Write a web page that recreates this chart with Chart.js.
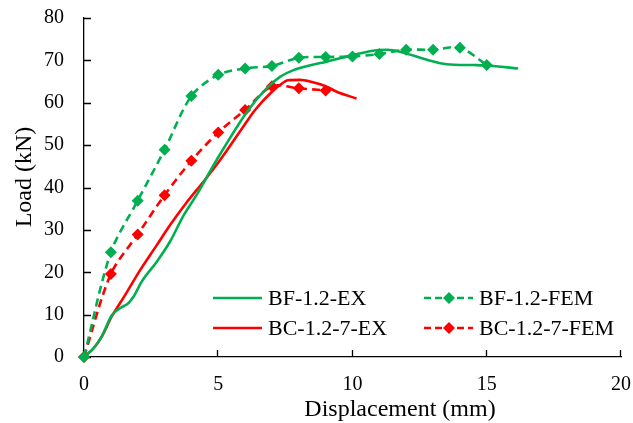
<!DOCTYPE html>
<html>
<head>
<meta charset="utf-8">
<script src="https://cdn.jsdelivr.net/npm/chart.js@4.4.1/dist/chart.umd.min.js"></script>
<style>
  html, body { margin: 0; padding: 0; background: #fff; }
  #wrap { width: 633px; height: 423px; }
</style>
</head>
<body>
<div id="wrap"><canvas id="chart"></canvas></div>
<script>
// load–displacement curves, test (EX) and finite element (FEM)
const bfExDisp = [0, 0.35, 0.66, 1.03, 1.34, 1.65, 1.84, 2.15, 2.71, 3.2, 3.7, 4.2, 4.94, 6.12, 6.8, 7.3, 7.8, 8.4, 9.04, 10.03, 10.9, 11.3, 11.8, 12.8, 13.5, 14.5, 15.0, 16.17];
const bfExLoad = [0, 2.0, 4.8, 9.8, 11.5, 12.7, 14.2, 17.8, 22.5, 27.2, 33.3, 38.3, 46.5, 58.3, 63.4, 66.1, 67.7, 68.8, 69.7, 71.3, 72.4, 72.5, 72.0, 70.1, 69.1, 68.9, 68.8, 68.1];

const bcExDisp = [0, 0.35, 0.66, 1.03, 1.53, 2.09, 2.71, 3.2, 3.8, 4.44, 5.07, 6.0, 6.37, 7.0, 7.3, 7.6, 8.04, 8.42, 9.04, 9.41, 10.15];
const bcExLoad = [0, 2.0, 4.8, 9.5, 14.6, 20.5, 26.4, 31.1, 36.3, 41.3, 46.5, 55.0, 58.3, 62.6, 64.2, 65.3, 65.4, 65.0, 63.8, 62.6, 61.0];

const bfFemDisp = [0, 1, 2, 3, 4, 5, 6, 7, 8, 9, 10, 11, 12, 13, 14, 15];
const bfFemLoad = [0, 24.7, 36.9, 48.9, 61.6, 66.6, 68.1, 68.7, 70.6, 70.8, 70.9, 71.5, 72.5, 72.5, 73.0, 68.9];

const bcFemDisp = [0, 1, 2, 3, 4, 5, 6, 7, 8, 9];
const bcFemLoad = [0, 19.6, 28.9, 38.2, 46.3, 53.0, 58.3, 63.9, 63.4, 62.9];

const xTicks = [0, 5, 10, 15, 20];
const yTicks = [0, 10, 20, 30, 40, 50, 60, 70, 80];

const GREEN = '#00B050';
const RED = '#FF0000';
const FONT = "'Liberation Serif', 'Times New Roman', serif";

function pts(xs, ys) {
    return xs.map((x, i) => ({ x: x, y: ys[i] }));
}

// short tick marks pointing into the plot, axis titles, and the frameless legend
const decorations = {
    id: 'decorations',
    beforeDatasetsDraw(chart) {
        const ctx = chart.ctx;
        const xs = chart.scales.x;
        const ys = chart.scales.y;
        const area = chart.chartArea;
        ctx.save();
        ctx.strokeStyle = '#000';
        ctx.lineWidth = 1.3;
        ctx.beginPath();
        xs.ticks.forEach(t => {
            const px = Math.round(xs.getPixelForValue(t.value)) - 0.5;
            ctx.moveTo(px, area.bottom);
            ctx.lineTo(px, area.bottom - 7);
        });
        ys.ticks.forEach(t => {
            const py = Math.round(ys.getPixelForValue(t.value)) + 0.5;
            ctx.moveTo(area.left, py);
            ctx.lineTo(area.left + 7, py);
        });
        ctx.stroke();

        ctx.fillStyle = '#000';
        ctx.font = '24px ' + FONT;
        ctx.textAlign = 'center';
        ctx.textBaseline = 'alphabetic';
        ctx.fillText('Displacement (mm)', 400, 416);
        ctx.translate(31, 177);
        ctx.rotate(-Math.PI / 2);
        ctx.fillText('Load (kN)', 0, 0);
        ctx.restore();
    },
    afterDraw(chart) {
        const ctx = chart.ctx;
        const rows = [
            [{ label: 'BF-1.2-EX', color: GREEN, dash: false }, { label: 'BF-1.2-FEM', color: GREEN, dash: true }],
            [{ label: 'BC-1.2-7-EX', color: RED, dash: false }, { label: 'BC-1.2-7-FEM', color: RED, dash: true }]
        ];
        const cols = [213, 424];
        const rowY = [298, 328];
        ctx.save();
        ctx.font = '22px ' + FONT;
        ctx.textBaseline = 'middle';
        ctx.textAlign = 'left';
        rows.forEach((row, r) => {
            row.forEach((item, c) => {
                const x0 = cols[c];
                const y = rowY[r];
                ctx.strokeStyle = item.color;
                ctx.lineWidth = 2.5;
                ctx.setLineDash(item.dash ? [7, 4] : []);
                ctx.beginPath();
                ctx.moveTo(x0, y);
                ctx.lineTo(x0 + 49, y);
                ctx.stroke();
                ctx.setLineDash([]);
                if (item.dash) {
                    const cx = x0 + 25;
                    ctx.fillStyle = item.color;
                    ctx.beginPath();
                    ctx.moveTo(cx, y - 6);
                    ctx.lineTo(cx + 6, y);
                    ctx.lineTo(cx, y + 6);
                    ctx.lineTo(cx - 6, y);
                    ctx.closePath();
                    ctx.fill();
                }
                ctx.fillStyle = '#000';
                ctx.fillText(item.label, x0 + 55, y + 1);
            });
        });
        ctx.restore();
    }
};

new Chart(document.getElementById('chart'), {
    type: 'scatter',
    data: {
        datasets: [
            {
                label: 'BF-1.2-EX',
                data: pts(bfExDisp, bfExLoad),
                showLine: true,
                borderColor: GREEN,
                borderWidth: 2.6,
                pointRadius: 0,
                cubicInterpolationMode: 'monotone',
                clip: false
            },
            {
                label: 'BF-1.2-FEM',
                data: pts(bfFemDisp, bfFemLoad),
                showLine: true,
                borderColor: GREEN,
                backgroundColor: GREEN,
                borderWidth: 2.6,
                borderDash: [8, 5],
                pointStyle: 'rectRot',
                pointRadius: 6,
                pointBorderWidth: 0,
                tension: 0.3,
                clip: false
            },
            {
                label: 'BC-1.2-7-EX',
                data: pts(bcExDisp, bcExLoad),
                showLine: true,
                borderColor: RED,
                borderWidth: 2.6,
                pointRadius: 0,
                cubicInterpolationMode: 'monotone',
                clip: false
            },
            {
                label: 'BC-1.2-7-FEM',
                data: pts(bcFemDisp, bcFemLoad),
                showLine: true,
                borderColor: RED,
                backgroundColor: RED,
                borderWidth: 2.6,
                borderDash: [8, 5],
                pointStyle: 'rectRot',
                pointRadius: 6,
                pointBorderWidth: 0,
                tension: 0.3,
                clip: false
            }
        ]
    },
    options: {
        responsive: true,
        maintainAspectRatio: false,
        animation: false,
        layout: { padding: { top: 18, right: 12, left: 0, bottom: 0 } },
        plugins: {
            legend: { display: false },
            tooltip: { enabled: false }
        },
        scales: {
            x: {
                type: 'linear',
                min: 0,
                max: 20,
                afterBuildTicks: s => { s.ticks = xTicks.map(v => ({ value: v })); },
                afterFit: s => {
                    s.height = 66;
                    s.paddingLeft = 0;
                    s.paddingRight = 0;
                },
                grid: { drawOnChartArea: false, drawTicks: false },
                border: { color: '#000', width: 1.3 },
                ticks: { color: '#000', padding: 16, font: { family: FONT, size: 20 } }
            },
            y: {
                type: 'linear',
                min: 0,
                max: 80,
                afterBuildTicks: s => { s.ticks = yTicks.map(v => ({ value: v })); },
                afterFit: s => {
                    s.width = 84;
                    s.paddingTop = 0;
                    s.paddingBottom = 0;
                },
                grid: { drawOnChartArea: false, drawTicks: false },
                border: { color: '#000', width: 1.3 },
                ticks: { color: '#000', padding: 20, font: { family: FONT, size: 20 } }
            }
        }
    },
    plugins: [decorations]
});
</script>
</body>
</html>
